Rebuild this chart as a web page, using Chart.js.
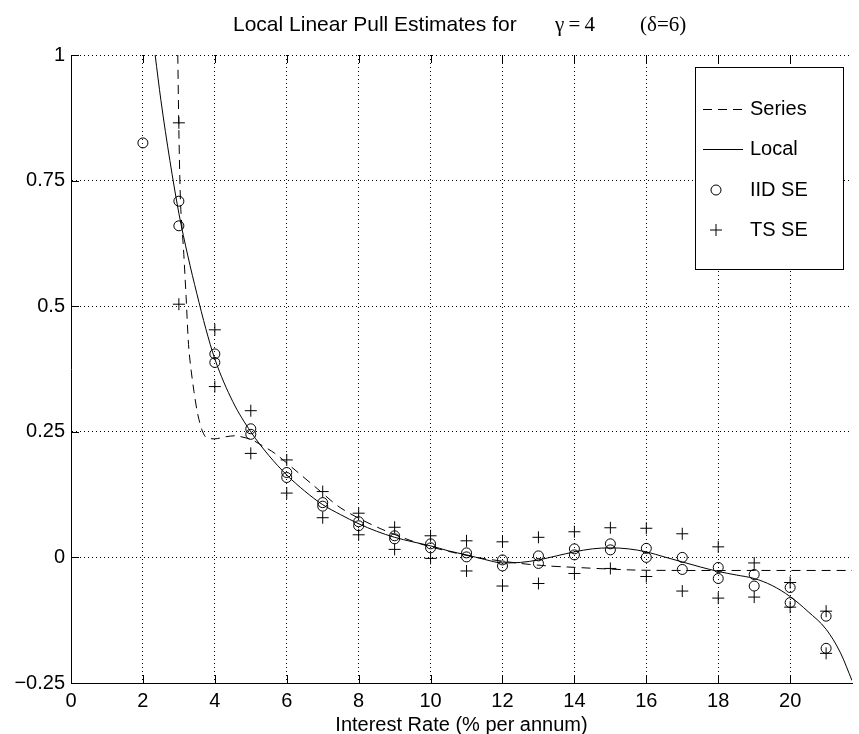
<!DOCTYPE html>
<html>
<head>
<meta charset="utf-8">
<script src="https://cdn.jsdelivr.net/npm/chart.js@4.4.0/dist/chart.umd.min.js"></script>
<style>
  html, body { margin: 0; padding: 0; background: #fff; }
  #wrap { width: 859px; height: 734px; }
</style>
</head>
<body>
<div id="wrap"><canvas id="pullChart" width="859" height="734"></canvas></div>
<script>
// values
const rates = [2, 3, 4, 5, 6, 7, 8, 9, 10, 11, 12, 13, 14, 15, 16, 17, 18, 19, 20, 21];
const iidHigh = [null, 0.709, 0.405, 0.256, 0.169, 0.109, 0.071, 0.043, 0.027, 0.009, -0.005, 0.003, 0.017, 0.027, 0.018, 0.000, -0.020, -0.034, -0.060, -0.117];
const iidLow = [0.825, 0.660, 0.388, 0.245, 0.159, 0.102, 0.063, 0.037, 0.019, 0.001, -0.017, -0.012, 0.005, 0.015, 0.000, -0.024, -0.042, -0.057, -0.090, -0.181];
const tsHigh = [null, 0.865, 0.453, 0.292, 0.194, 0.131, 0.088, 0.060, 0.043, 0.033, 0.031, 0.040, 0.051, 0.059, 0.058, 0.047, 0.021, -0.011, -0.050, -0.107];
const tsLow = [null, 0.504, 0.340, 0.207, 0.128, 0.079, 0.045, 0.016, -0.002, -0.027, -0.057, -0.052, -0.032, -0.022, -0.038, -0.067, -0.081, -0.079, -0.099, -0.191];

const localX = [2.34, 2.5, 2.75, 3, 3.25, 3.5, 3.75, 4, 4.5, 5, 5.5, 6, 6.5, 7, 7.5, 8, 8.5, 9, 9.5, 10, 10.5, 11, 11.5, 12, 12.5, 13, 13.5, 14, 14.5, 15, 15.5, 16, 16.5, 17, 17.5, 18, 18.5, 19, 19.5, 20, 20.5, 21, 21.4, 21.72];
const localY = [1.0, 0.91, 0.79, 0.685, 0.60, 0.525, 0.455, 0.395, 0.31, 0.25, 0.203, 0.164, 0.132, 0.105, 0.085, 0.067, 0.052, 0.040, 0.031, 0.023, 0.013, 0.005, -0.004, -0.011, -0.010, -0.005, 0.003, 0.011, 0.017, 0.019, 0.017, 0.011, 0.001, -0.009, -0.019, -0.028, -0.035, -0.042, -0.056, -0.078, -0.108, -0.143, -0.19, -0.245];

const seriesX = [2.97, 3.0, 3.05, 3.13, 3.2, 3.28, 3.42, 3.56, 3.74, 4.0, 4.3, 4.57, 5.0, 5.21, 5.67, 6.23, 6.78, 7.51, 8.52, 9.63, 10.5, 11.37, 12.5, 13.26, 13.77, 15.6, 17, 19, 21.72];
const seriesY = [1.0, 0.85, 0.70, 0.612, 0.52, 0.413, 0.33, 0.274, 0.240, 0.236, 0.240, 0.242, 0.235, 0.227, 0.207, 0.174, 0.141, 0.098, 0.060, 0.029, 0.012, -0.001, -0.012, -0.017, -0.019, -0.025, -0.026, -0.026, -0.026];

const xTicks = [0, 2, 4, 6, 8, 10, 12, 14, 16, 18, 20];
const yTicks = [-0.25, 0, 0.25, 0.5, 0.75, 1];
const yTickText = ["\u22120.25", "0", "0.25", "0.5", "0.75", "1"];

const toPoints = (xs, ys) => xs.map((x, i) => ({ x: x, y: ys[i] })).filter((p) => p.y !== null);

const SANS = "'Liberation Sans', Arial, Helvetica, sans-serif";
const SERIF = "'Liberation Serif', 'Times New Roman', serif";

const markerCommon = {
  showLine: false,
  borderColor: "#000",
  backgroundColor: "rgba(0,0,0,0)",
  borderWidth: 1,
};

// title with mixed fonts
const titlePlugin = {
  id: "mixedTitle",
  afterDraw(chart) {
    const c = chart.ctx;
    c.save();
    c.fillStyle = "#000";
    c.textBaseline = "alphabetic";
    c.font = "21px " + SANS;
    c.fillText("Local Linear Pull Estimates for", 233, 31);
    c.font = "21px " + SERIF;
    c.fillText("\u03b3\u2009=\u20094", 555, 31);
    c.fillText("(\u03b4=6)", 640, 31);
    c.restore();
  },
};

// inward tick marks, matlab style
const tickPlugin = {
  id: "inTicks",
  afterDraw(chart) {
    const c = chart.ctx;
    const xs = chart.scales.x;
    const ys = chart.scales.y;
    const a = chart.chartArea;
    c.save();
    c.strokeStyle = "#000";
    c.lineWidth = 1;
    c.beginPath();
    xTicks.forEach((v) => {
      const px = Math.round(xs.getPixelForValue(v)) + 0.5;
      c.moveTo(px, a.bottom);
      c.lineTo(px, a.bottom - 8);
      c.moveTo(px, a.top);
      c.lineTo(px, a.top + 8);
    });
    yTicks.forEach((v) => {
      const py = Math.round(ys.getPixelForValue(v)) + 0.5;
      c.moveTo(a.left, py);
      c.lineTo(a.left + 8, py);
    });
    c.stroke();
    c.restore();
  },
};

// boxed legend inside the plot
const legendPlugin = {
  id: "boxLegend",
  afterDraw(chart) {
    const c = chart.ctx;
    const bx = 695, by = 67, bw = 148, bh = 202;
    c.save();
    c.fillStyle = "#fff";
    c.fillRect(bx, by, bw, bh);
    c.strokeStyle = "#000";
    c.lineWidth = 1;
    c.strokeRect(bx + 0.5, by + 0.5, bw, bh);

    c.font = "20px " + SANS;
    c.fillStyle = "#000";
    c.textBaseline = "middle";
    const rows = [109, 149, 190, 230];
    const names = ["Series", "Local", "IID SE", "TS SE"];
    names.forEach((n, i) => c.fillText(n, 750, rows[i]));

    c.beginPath();
    c.setLineDash([9, 6]);
    c.moveTo(703, rows[0] + 0.5);
    c.lineTo(743, rows[0] + 0.5);
    c.stroke();
    c.setLineDash([]);
    c.beginPath();
    c.moveTo(703, rows[1] + 0.5);
    c.lineTo(743, rows[1] + 0.5);
    c.stroke();
    c.beginPath();
    c.arc(716, rows[2], 5, 0, Math.PI * 2);
    c.stroke();
    c.beginPath();
    c.moveTo(710, rows[3]);
    c.lineTo(722, rows[3]);
    c.moveTo(716, rows[3] - 6);
    c.lineTo(716, rows[3] + 6);
    c.stroke();
    c.restore();
  },
};

const ctx = document.getElementById("pullChart");

new Chart(ctx, {
  type: "scatter",
  data: {
    datasets: [
      {
        label: "Series",
        data: toPoints(seriesX, seriesY),
        showLine: true,
        borderColor: "#000",
        borderWidth: 1,
        borderDash: [9, 6],
        pointRadius: 0,
        tension: 0.3,
        order: 2,
      },
      {
        label: "Local",
        data: toPoints(localX, localY),
        showLine: true,
        borderColor: "#000",
        borderWidth: 1,
        pointRadius: 0,
        cubicInterpolationMode: "monotone",
        order: 1,
      },
      { label: "IID SE", data: toPoints(rates, iidHigh), pointStyle: "circle", pointRadius: 5, ...markerCommon },
      { label: "IID SE low", data: toPoints(rates, iidLow), pointStyle: "circle", pointRadius: 5, ...markerCommon },
      { label: "TS SE", data: toPoints(rates, tsHigh), pointStyle: "cross", pointRadius: 6, ...markerCommon },
      { label: "TS SE low", data: toPoints(rates, tsLow), pointStyle: "cross", pointRadius: 6, ...markerCommon },
    ],
  },
  options: {
    responsive: false,
    animation: false,
    layout: { padding: { top: 55, right: 1, left: 0, bottom: 0 } },
    plugins: {
      legend: { display: false },
      title: { display: false },
      tooltip: { enabled: false },
    },
    scales: {
      x: {
        type: "linear",
        min: 0,
        max: 21.72,
        afterBuildTicks: (scale) => {
          scale.ticks = xTicks.map((v) => ({ value: v }));
        },
        afterFit: (scale) => {
          scale.height = 51;
        },
        ticks: {
          color: "#000",
          font: { family: SANS, size: 20 },
          padding: 6,
          maxRotation: 0,
          callback: (v) => String(v),
        },
        grid: { color: "#000", lineWidth: 1, drawTicks: false },
        border: { display: true, color: "#000", width: 1, dash: [1, 3] },
        title: {
          display: true,
          text: "Interest Rate (% per annum)",
          color: "#000",
          font: { family: SANS, size: 20, lineHeight: 1.0 },
          padding: { top: 0, bottom: -1 },
        },
      },
      y: {
        type: "linear",
        min: -0.25,
        max: 1,
        afterBuildTicks: (scale) => {
          scale.ticks = yTicks.map((v) => ({ value: v }));
        },
        afterFit: (scale) => {
          scale.width = 71;
        },
        ticks: {
          color: "#000",
          font: { family: SANS, size: 20 },
          padding: 6,
          callback: (v) => {
            const i = yTicks.indexOf(v);
            return i >= 0 ? yTickText[i] : "";
          },
        },
        grid: { color: "#000", lineWidth: 1, drawTicks: false },
        border: { display: true, color: "#000", width: 1, dash: [1, 3] },
      },
    },
  },
  plugins: [titlePlugin, tickPlugin, legendPlugin],
});
</script>
</body>
</html>
